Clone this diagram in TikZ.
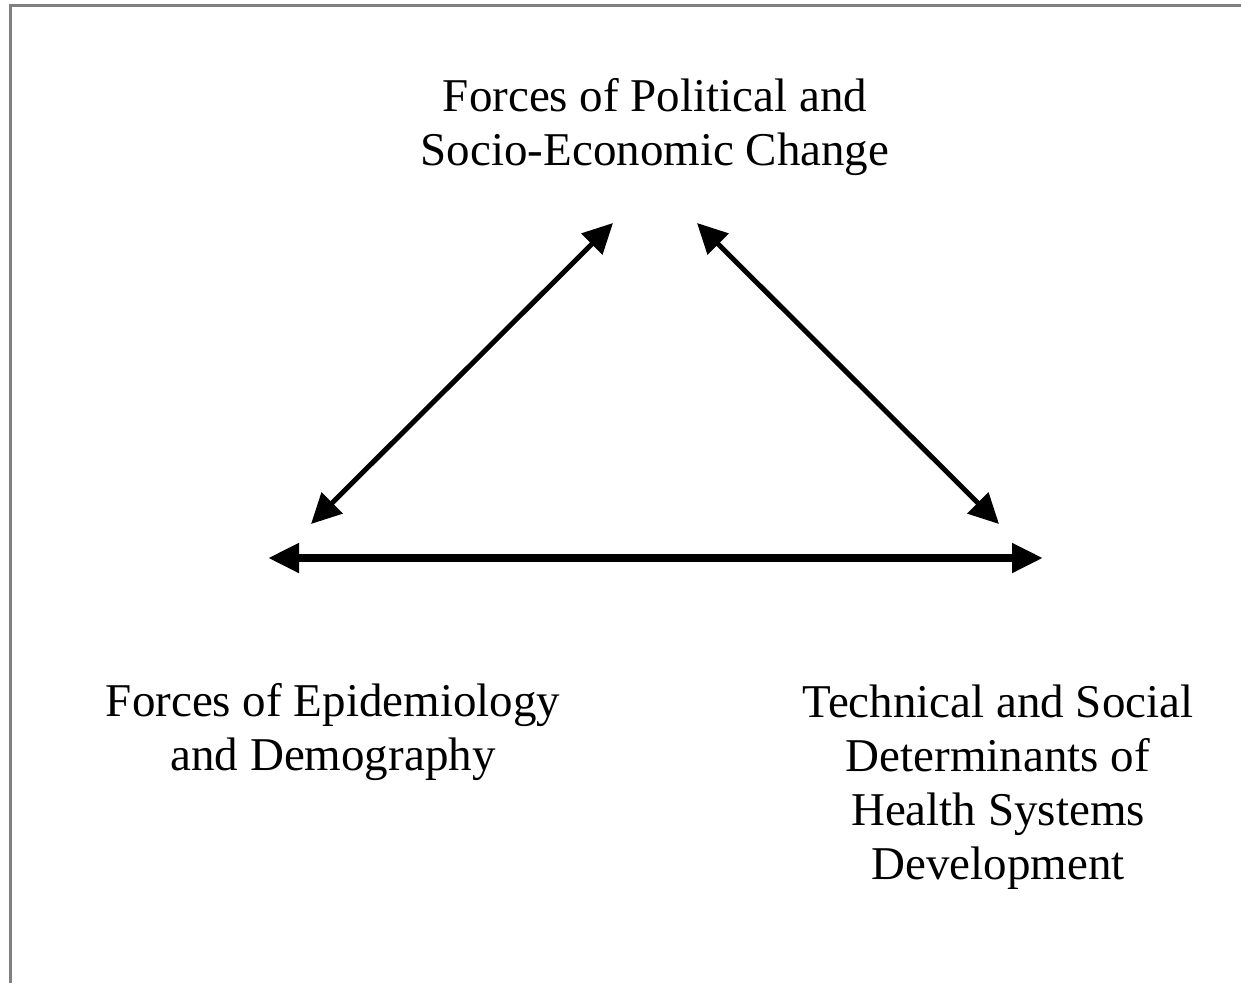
\documentclass[tikz,border=0pt]{standalone}
\usepackage{fontspec}
\setmainfont{Liberation Serif}
\usetikzlibrary{arrows.meta}
\begin{document}
\begin{tikzpicture}[x=1pt,y=-1pt,
  lbl/.style={align=center,inner sep=0pt,anchor=base,font=\fontsize{47}{54}\selectfont},
  frame/.style={draw=black!50,line width=3pt},
  diag/.style={line width=5pt,{Triangle[length=30pt,width=29pt]}-{Triangle[length=30pt,width=29pt]}},
  horiz/.style={line width=8pt,{Triangle[length=31pt,width=28pt]}-{Triangle[length=31pt,width=28pt]}}]
\useasboundingbox (0,0) rectangle (1241,983);
\draw[frame] (10.5,983) -- (10.5,5.5) -- (1241,5.5);
% base anchor = baseline of the last line
\node[lbl] (pol) at (655,165) {Forces of Political and\\Socio-Economic Change};
\node[lbl] (epi) at (333,770) {Forces of Epidemiology\\and Demography};
\node[lbl] (tech) at (998,879) {Technical and Social\\Determinants of\\Health Systems\\Development};
\coordinate (polL) at (613,223);
\coordinate (polR) at (697,223);
\coordinate (epiT) at (311,524);
\coordinate (epiR) at (268,558);
\coordinate (techT) at (999,524);
\coordinate (techL) at (1043,558);
\draw[diag] (epiT) -- (polL);
\draw[diag] (polR) -- (techT);
\draw[horiz] (epiR) -- (techL);
\end{tikzpicture}
\end{document}
